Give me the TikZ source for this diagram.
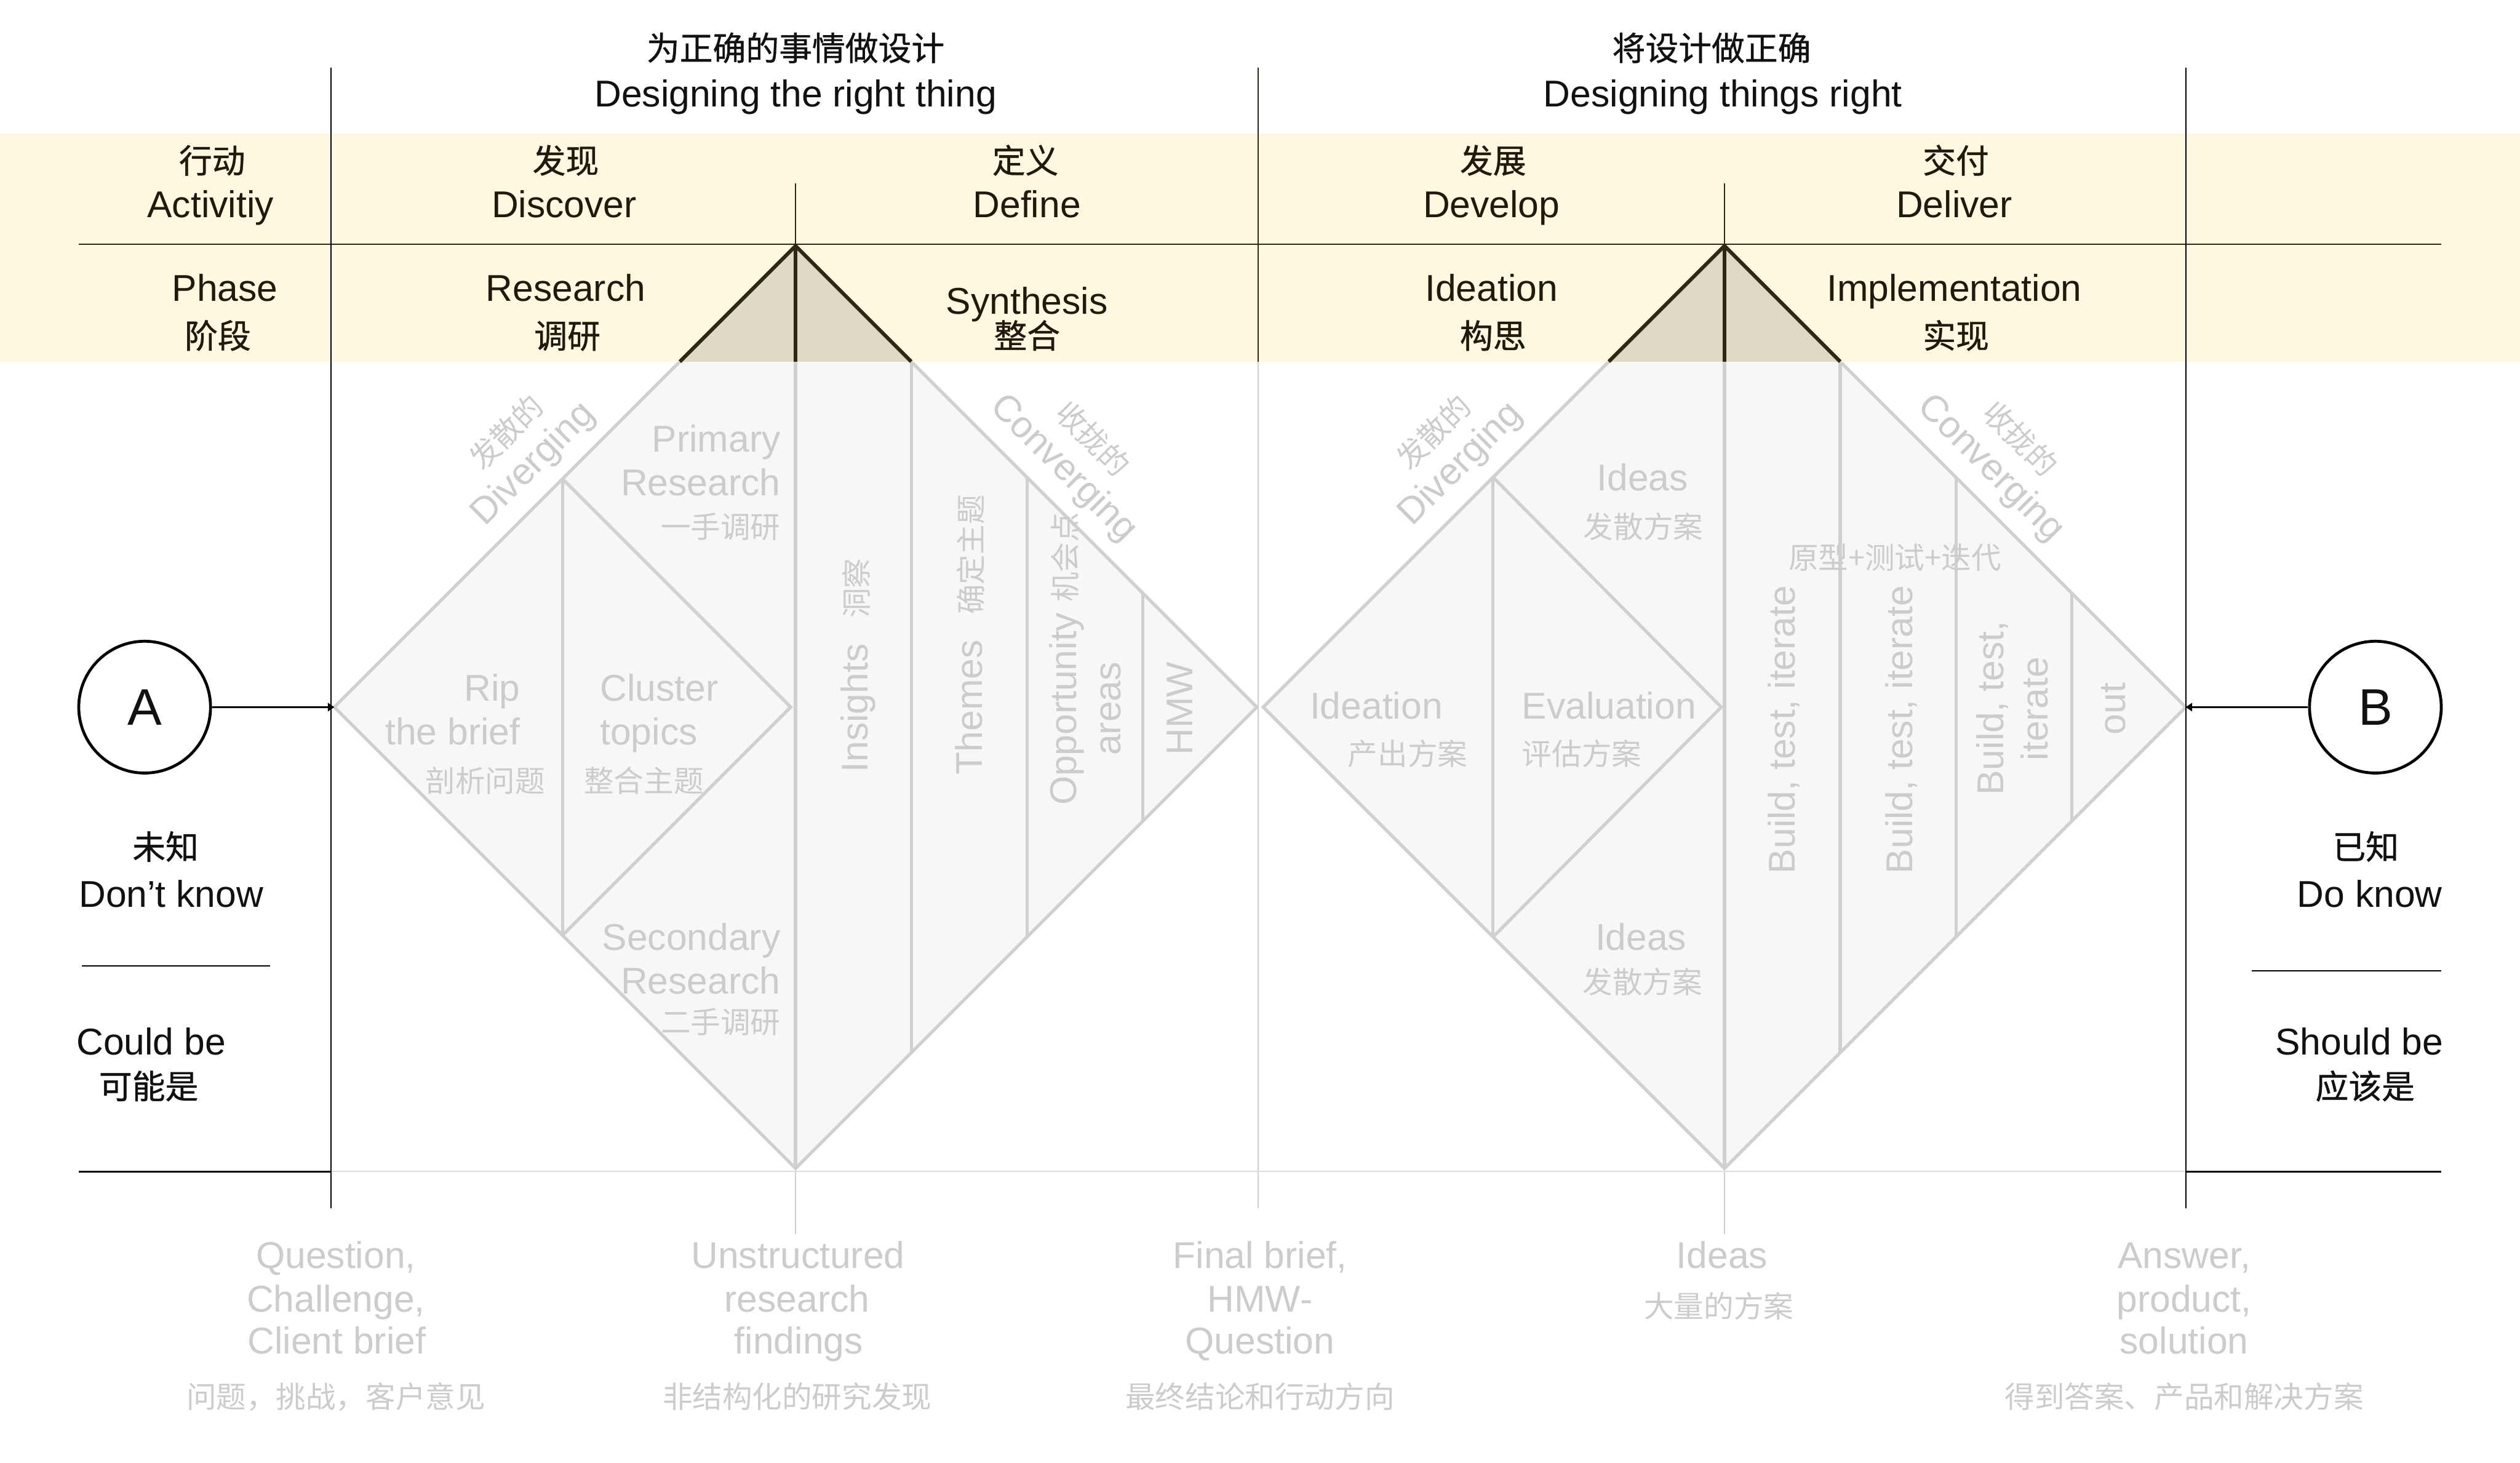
\documentclass[tikz,border=0pt]{standalone}
\usepackage{fontspec}
\setmainfont{Liberation Sans}
\newfontfamily\cjk{Noto Sans CJK SC}
\newfontfamily\cjkb[FakeBold=0.8]{Noto Sans CJK SC}
\usetikzlibrary{arrows.meta}

\definecolor{bandY}{HTML}{FEF8E1}
\definecolor{triF}{HTML}{DFDAC4}
\definecolor{darkL}{HTML}{2E2812}
\definecolor{dStroke}{HTML}{D0D0D0}
\definecolor{dFill}{HTML}{F7F7F7}
\definecolor{gText}{HTML}{CCCCCC}
\definecolor{bText}{HTML}{111111}
\definecolor{bandText}{HTML}{1E1A0C}
\definecolor{faintL}{HTML}{DDDDDD}

\tikzset{
  en/.style={inner sep=0pt, font=\fontsize{11.6}{14}\selectfont, text height=8.3pt, text depth=0pt, text=bText},
  cn/.style={inner sep=0pt, font=\cjkb\fontsize{10.3}{12}\selectfont, text height=7.6pt, text depth=0pt, text=bText},
  ben/.style={en, text=bandText},
  bcn/.style={cn, text=bandText},
  gen/.style={en, text=gText},
  gcn/.style={inner sep=0pt, font=\cjk\fontsize{9.3}{11}\selectfont, text height=6.9pt, text depth=0pt, text=gText},
  dline/.style={draw=dStroke, line width=1pt},
  thinG/.style={draw=dStroke, line width=0.4pt},
  thinD/.style={draw=darkL, line width=0.4pt},
  thinK/.style={draw=black, line width=0.45pt},
  triline/.style={draw=darkL, line width=1.15pt},
  endpt/.style={circle, draw=black, line width=0.9pt, minimum size=82pt*0.5, inner sep=0pt, font=\fontsize{16}{18}\selectfont, text=bText},
  aconn/.style={draw=black, line width=0.45pt, -{Triangle[length=2pt,width=2.6pt]}}
}

\begin{document}
\begin{tikzpicture}[x=0.5pt,y=-0.5pt]
\path[use as bounding box, fill=white] (0,0) rectangle (1568,910);

% ---------- diamonds ----------
\draw[dline, fill=dFill] (208,440) coordinate (d1W) -- (495,153) coordinate (d1N) -- (782,440) coordinate (d1E) -- (495,727) coordinate (d1S) -- cycle;
\draw[dline, fill=dFill] (786,440) coordinate (d2W) -- (1073,153) coordinate (d2N) -- (1360,440) coordinate (d2E) -- (1073,727) coordinate (d2S) -- cycle;

% inner lines diamond 1
\draw[dline] (350,298) -- (350,582);
\draw[dline] (350,298) -- (492,440) -- (350,582);
\draw[dline] (495,225) -- (495,727);
\draw[dline] (567,225) -- (567,655);
\draw[dline] (639,297) -- (639,583);
\draw[dline] (711,369) -- (711,511);
% inner lines diamond 2
\draw[dline] (929,297) -- (929,583);
\draw[dline] (929,297) -- (1071,440) -- (929,583);
\draw[dline] (1073,225) -- (1073,727);
\draw[dline] (1145,225) -- (1145,655);
\draw[dline] (1217,297) -- (1217,583);
\draw[dline] (1289,369) -- (1289,511);

% light guide lines
\draw[thinG] (495,727) -- (495,768);
\draw[thinG] (1073,727) -- (1073,768);
\draw[thinG] (783,225) -- (783,752);
\draw[draw=faintL, line width=0.4pt] (206,729) -- (1360,729);

% ---------- band ----------
\fill[bandY] (0,83) rectangle (1568,225);
\fill[triF] (423,225) -- (495,153) -- (567,225) -- cycle;
\draw[triline] (423,225) -- (495,153) -- (567,225);
\draw[triline] (495,153) -- (495,225);
\fill[triF] (1001,225) -- (1073,153) -- (1145,225) -- cycle;
\draw[triline] (1001,225) -- (1073,153) -- (1145,225);
\draw[triline] (1073,153) -- (1073,225);

\draw[thinD] (49,152) -- (1519,152);
\draw[thinD] (495,114) -- (495,153);
\draw[thinD] (1073,114) -- (1073,153);
\draw[thinD] (783,42) -- (783,225);
\draw[thinK] (206,42) -- (206,752);
\draw[thinK] (1360,42) -- (1360,752);

% ---------- A and B ----------
\node[endpt] (A) at (90,440) {A};
\node[endpt] (B) at (1478,440) {B};
\draw[aconn] (A) -- (d1W);
\draw[aconn] (B) -- (d2E);

\draw[thinK] (51,601) -- (168,601);
\draw[thinK] (49,729) -- (206,729);
\draw[thinK] (1401,604) -- (1519,604);
\draw[thinK] (1360,729) -- (1519,729);

\node[cn] (unk1) at (103,527) {未知};
\node[en] (unk2) at (106.5,556) {Don't know};
\node[en] (cb1) at (94,648) {Could be};
\node[cn] (cb2) at (92.5,676) {可能是};
\node[cn] (kn1) at (1472,527) {已知};
\node[en] (kn2) at (1474.5,556) {Do know};
\node[en] (sb1) at (1468,648) {Should be};
\node[cn] (sb2) at (1471.6,676) {应该是};

% ---------- top titles ----------
\node[cn] (ttl1c) at (495,30) {为正确的事情做设计};
\node[en] (ttl1e) at (495,58) {Designing the right thing};
\node[cn] (ttl2c) at (1065,30) {将设计做正确};
\node[en] (ttl2e) at (1072,58) {Designing things right};

% ---------- band texts ----------
\node[bcn] (act1) at (132,100) {行动};
\node[ben] (act2) at (131,127) {Activitiy};
\node[bcn] (dis1) at (352,100) {发现};
\node[ben] (dis2) at (351,127) {Discover};
\node[bcn] (def1) at (638,100) {定义};
\node[ben] (def2) at (639,127) {Define};
\node[bcn] (dev1) at (929,100) {发展};
\node[ben] (dev2) at (928,127) {Develop};
\node[bcn] (del1) at (1217,100) {交付};
\node[ben] (del2) at (1216,127) {Deliver};

\node[ben] (ph1) at (140,179) {Phase};
\node[bcn] (ph2) at (135.5,209) {阶段};
\node[ben] (res1) at (352,179) {Research};
\node[bcn] (res2) at (353,209) {调研};
\node[ben] (syn1) at (639,187) {Synthesis};
\node[bcn] (syn2) at (639,209) {整合};
\node[ben] (ide1) at (928,179) {Ideation};
\node[bcn] (ide2) at (929,209) {构思};
\node[ben] (imp1) at (1216,179) {Implementation};
\node[bcn] (imp2) at (1217,209) {实现};

% ---------- diamond 1 labels ----------
\node[gcn, rotate=45] (dv1c) at (315,269) {发散的};
\node[gen, rotate=45] (dv1e) at (330.5,287.5) {Diverging};
\node[gcn, rotate=-45] (cv1c) at (680,273) {收拢的};
\node[gen, rotate=-45] (cv1e) at (663,290) {Converging};

\node[gen, anchor=east] (pr1) at (486,273) {Primary};
\node[gen, anchor=east] (pr2) at (486,300) {Research};
\node[gcn, anchor=east] (pr3) at (486,328) {一手调研};

\node[gen, anchor=east] (rip1) at (324,428) {Rip};
\node[gen, anchor=east] (rip2) at (324,455) {the brief};
\node[gcn, anchor=east] (rip3) at (339.5,486) {剖析问题};

\node[gen, anchor=west] (cl1) at (373,428) {Cluster};
\node[gen, anchor=west] (cl2) at (373,455) {topics};
\node[gcn, anchor=west] (cl3) at (363,486) {整合主题};

\node[gen, anchor=east] (se1) at (486,583) {Secondary};
\node[gen, anchor=east] (se2) at (486,610) {Research};
\node[gcn, anchor=east] (se3) at (486,636) {二手调研};

\node[gen, rotate=90] (ins) at (531.5,414) {Insights\hspace{8pt}{\cjk\fontsize{9.3}{11}\selectfont 洞察}};
\node[gen, rotate=90] (thm) at (603,395) {Themes\hspace{8pt}{\cjk\fontsize{9.3}{11}\selectfont 确定主题}};
\node[gen, rotate=90] (opp1) at (661.5,410) {Opportunity {\cjk\fontsize{9.3}{11}\selectfont 机会点}};
\node[gen, rotate=90] (opp2) at (689,441) {areas};
\node[gen, rotate=90] (hmw) at (733.6,441) {HMW};

% ---------- diamond 2 labels ----------
\node[gcn, rotate=45] (dv2c) at (892,269) {发散的};
\node[gen, rotate=45] (dv2e) at (907.5,287.5) {Diverging};
\node[gcn, rotate=-45] (cv2c) at (1257,273) {收拢的};
\node[gen, rotate=-45] (cv2e) at (1240,290) {Converging};

\node[gen] (id1) at (1022,297) {Ideas};
\node[gcn] (id2) at (1022.5,328) {发散方案};
\node[gen, anchor=east] (gen1) at (898,439) {Ideation};
\node[gcn, anchor=east] (gen2) at (913.5,469) {产出方案};
\node[gen, anchor=west] (ev1) at (946.6,439) {Evaluation};
\node[gcn, anchor=west] (ev2) at (946.6,469) {评估方案};
\node[gen] (id3) at (1021,583) {Ideas};
\node[gcn] (id4) at (1022,611) {发散方案};

\node[gcn] (proto) at (1179,347) {原型+测试+迭代};
\node[gen, rotate=90] (bt1) at (1108.6,454) {Build, test, iterate};
\node[gen, rotate=90] (bt2) at (1181.6,454) {Build, test, iterate};
\node[gen, rotate=90] (bt3a) at (1238.5,440.6) {Build, test,};
\node[gen, rotate=90] (bt3b) at (1266,441) {iterate};
\node[gen, rotate=90] (outn) at (1314,441) {out};

% ---------- bottom labels ----------
\node[gen] (q1) at (209,781) {Question,};
\node[gen] (q2) at (209,808) {Challenge,};
\node[gen] (q3) at (209.5,834) {Client brief};
\node[gcn] (q4) at (209,869) {问题，挑战，客户意见};

\node[gen] (u1) at (496.5,781) {Unstructured};
\node[gen] (u2) at (496,808) {research};
\node[gen] (u3) at (497,834) {findings};
\node[gcn] (u4) at (496,869) {非结构化的研究发现};

\node[gen] (f1) at (784,781) {Final brief,};
\node[gen] (f2) at (784,808) {HMW-};
\node[gen] (f3) at (784,834) {Question};
\node[gcn] (f4) at (784,869) {最终结论和行动方向};

\node[gen] (i1) at (1071.5,781) {Ideas};
\node[gcn] (i2) at (1069.5,813) {大量的方案};

\node[gen] (an1) at (1359,781) {Answer,};
\node[gen] (an2) at (1359,808) {product,};
\node[gen] (an3) at (1359,834) {solution};
\node[gcn] (an4) at (1359,869) {得到答案、产品和解决方案};
\end{tikzpicture}
\end{document}
